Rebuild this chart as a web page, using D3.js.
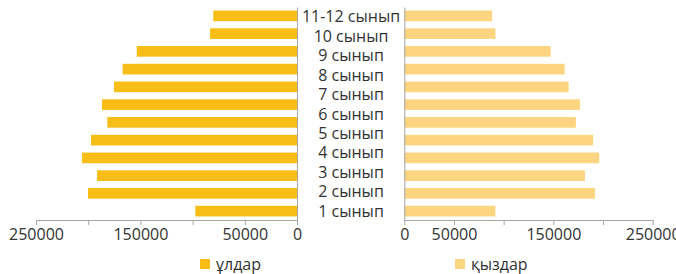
<!DOCTYPE html>
<html>
<head>
<meta charset="utf-8">
<script src="https://cdn.jsdelivr.net/npm/d3@7"></script>
<style>
  html, body { margin: 0; padding: 0; background: #fff; }
  svg text { font-family: "Open Sans", sans-serif; fill: #333; }
  .axis path, .axis line { stroke: #a6a6a6; }
</style>
</head>
<body>
<div id="chart"></div>
<script>
// --- Data (top row first) ---
const grades = ["12", "11", "10", "9", "8", "7", "6", "5", "4", "3", "2", "1"];
const boys  = [80200, 83300, 153500, 167000, 175300, 186800, 181700, 197300, 205900, 191600, 200200, 97400];
const girls = [88400, 91700, 147300, 161400, 165400, 176800, 172700, 190100, 196200, 181800, 191900, 91700];
const rowLabels = ["11-12 сынып", "10 сынып", "9 сынып", "8 сынып", "7 сынып", "6 сынып",
                   "5 сынып", "4 сынып", "3 сынып", "2 сынып", "1 сынып"];
const tickValues = [0, 50000, 100000, 150000, 200000, 250000];
const shownTicks = [0, 50000, 150000, 250000];
const seriesNames = ["ұлдар", "қыздар"];
const colors = ["#f8be17", "#fdd580"];

// --- Layout ---
const width = 676, height = 274;
const axisY = 220;

const svg = d3.select('#chart').append('svg').attr('width', width).attr('height', height);

const y = d3.scaleBand().domain(grades).range([7, axisY]).paddingInner(0.4).paddingOuter(0.2);
const xL = d3.scaleLinear().domain([0, 250000]).range([297, 36]);
const xR = d3.scaleLinear().domain([0, 250000]).range([404.3, 652.7]);
const yLab = d3.scalePoint().domain(rowLabels).range([16.7, 211]);

// bars
svg.append('g').selectAll('rect')
  .data(grades.map((g, i) => ({ g, v: boys[i] })))
  .join('rect')
  .attr('x', d => xL(d.v))
  .attr('y', d => y(d.g))
  .attr('width', d => xL(0) - xL(d.v))
  .attr('height', y.bandwidth())
  .attr('fill', colors[0]);

svg.append('g').selectAll('rect')
  .data(grades.map((g, i) => ({ g, v: girls[i] })))
  .join('rect')
  .attr('x', xR(0))
  .attr('y', d => y(d.g))
  .attr('width', d => xR(d.v) - xR(0))
  .attr('height', y.bandwidth())
  .attr('fill', colors[1]);

// x axes
const fmt = d => shownTicks.includes(d) ? String(d) : "";
[xL, xR].forEach(sc => {
  const ax = svg.append('g').attr('class', 'axis')
    .attr('transform', `translate(0,${axisY})`)
    .call(d3.axisBottom(sc).tickValues(tickValues).tickFormat(fmt).tickSize(5).tickSizeOuter(0).tickPadding(4));
  ax.selectAll('text').style('font-size', '16px').attr('fill', '#333');
});

// vertical axis lines
svg.append('g').attr('class', 'axis').attr('transform', `translate(${xL(0)},0)`)
  .call(d3.axisRight(y).tickSize(0).tickSizeOuter(0).tickFormat(""));
svg.append('g').attr('class', 'axis').attr('transform', `translate(${xR(0)},0)`)
  .call(d3.axisLeft(y).tickSize(0).tickSizeOuter(0).tickFormat(""));

// row labels in the middle
svg.append('g').selectAll('text')
  .data(rowLabels)
  .join('text')
  .attr('x', 351)
  .attr('y', d => yLab(d))
  .attr('dy', '0.36em')
  .attr('text-anchor', 'middle')
  .style('font-size', '16px')
  .text(d => d);

// legend
const legendX = [200, 455];
seriesNames.forEach((name, i) => {
  const lg = svg.append('g').attr('transform', `translate(${legendX[i]},259)`);
  lg.append('rect').attr('width', 10).attr('height', 10).attr('fill', colors[i]);
  lg.append('text').attr('x', 16).attr('y', 5).attr('dy', '0.36em')
    .style('font-size', '16px').text(name);
});
</script>
</body>
</html>
